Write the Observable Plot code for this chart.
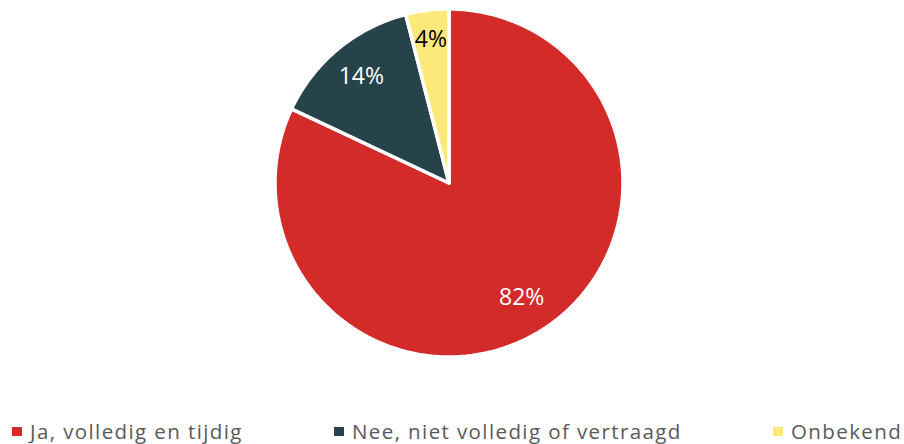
<!DOCTYPE html>
<html>
<head>
<meta charset="utf-8">
<script src="https://cdn.jsdelivr.net/npm/d3@7"></script>
<script src="https://cdn.jsdelivr.net/npm/@observablehq/plot@0.6"></script>
<style>
  body { margin: 0; background: #fff; font-family: "Open Sans", sans-serif; }
  #wrap { position: relative; width: 904px; height: 444px; }
  .legend { position: absolute; top: 417px; left: 0; width: 904px; height: 28px; }
  .item { position: absolute; top: 0; display: flex; align-items: center; font-size: 20.5px; letter-spacing: 1.4px; color: #595959; height: 28px; white-space: nowrap; }
  .sw { width: 10px; height: 9px; margin-right: 8px; }
</style>
</head>
<body>
<div id="wrap"><div id="chart"></div><div class="legend" id="legend"></div></div>
<script>
const categories = ["Ja, volledig en tijdig", "Nee, niet volledig of vertraagd", "Onbekend"];
const values = [82, 14, 4];
const labels = ["82%", "14%", "4%"];
const colors = ["#D32B2A", "#254349", "#FCE97A"];
const labelColors = ["#ffffff", "#ffffff", "#000000"];
const labelRadius = [0.78, 0.79, 0.83];

const pie = d3.pie().sort(null).value(d => d.value)(categories.map((c, i) => ({cat: c, value: values[i]})));

// polygon vertices in unit coordinates (angle 0 = top, clockwise)
const pts = [];
pie.forEach(p => {
  const n = Math.max(4, Math.ceil((p.endAngle - p.startAngle) * 60));
  pts.push({cat: p.data.cat, x: 0, y: 0});
  for (let k = 0; k <= n; k++) {
    const a = p.startAngle + (p.endAngle - p.startAngle) * k / n;
    pts.push({cat: p.data.cat, x: Math.sin(a), y: Math.cos(a)});
  }
  pts.push({cat: p.data.cat, x: 0, y: 0});
});
const lab = pie.map((p, i) => {
  const a = (p.startAngle + p.endAngle) / 2;
  const r = labelRadius[i];
  return {cat: p.data.cat, text: labels[i], x: r * Math.sin(a), y: r * Math.cos(a), c: labelColors[i]};
});

const cx = 448.5, cy = 182.5, R = 174, H = 370;
const chart = Plot.plot({
  width: 904, height: H,
  marginLeft: cx - R, marginRight: 904 - (cx + R),
  marginTop: cy - R, marginBottom: H - (cy + R),
  x: {domain: [-1, 1], axis: null},
  y: {domain: [-1, 1], axis: null},
  color: {domain: categories, range: colors},
  style: {fontFamily: "Open Sans, sans-serif", background: "white"},
  marks: [
    Plot.line(pts, {x: "x", y: "y", z: "cat", fill: "cat", stroke: "white", strokeWidth: 3.5, strokeLinejoin: "miter", curve: "linear"}),
    Plot.text(lab, {x: "x", y: "y", text: "text", fill: d => d.c, fontSize: 23})
  ]
});
document.getElementById("chart").appendChild(chart);

const lefts = [12, 334, 773];
const legend = document.getElementById("legend");
categories.forEach((c, i) => {
  const it = document.createElement("div");
  it.className = "item";
  it.style.left = lefts[i] + "px";
  it.innerHTML = `<span class="sw" style="background:${colors[i]}"></span><span>${c}</span>`;
  legend.appendChild(it);
});
</script>
</body>
</html>
